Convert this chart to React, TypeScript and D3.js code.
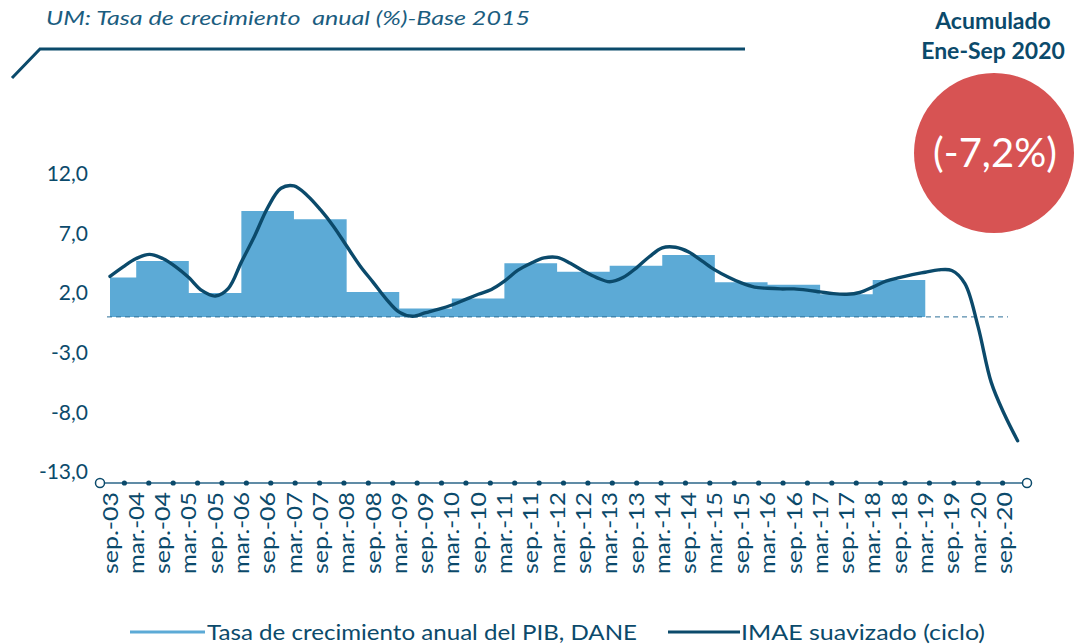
import * as d3 from 'd3';
import React from 'react';

// Etiquetas del eje X (semestrales)
const periodos = [
  'sep.-03', 'mar.-04', 'sep.-04', 'mar.-05', 'sep.-05', 'mar.-06', 'sep.-06',
  'mar.-07', 'sep.-07', 'mar.-08', 'sep.-08', 'mar.-09', 'sep.-09', 'mar.-10',
  'sep.-10', 'mar.-11', 'sep.-11', 'mar.-12', 'sep.-12', 'mar.-13', 'sep.-13',
  'mar.-14', 'sep.-14', 'mar.-15', 'sep.-15', 'mar.-16', 'sep.-16', 'mar.-17',
  'sep.-17', 'mar.-18', 'sep.-18', 'mar.-19', 'sep.-19', 'mar.-20', 'sep.-20',
];

// Tasa de crecimiento anual del PIB, DANE (por semestre, sep.-03 a mar.-19)
const pibValores = [
  3.3, 4.7, 4.7, 2.0, 2.0, 8.9, 8.9, 8.2, 8.2, 2.1, 2.1, 0.7, 0.7, 1.55, 1.55,
  4.5, 4.5, 3.8, 3.8, 4.3, 4.3, 5.2, 5.2, 2.9, 2.9, 2.7, 2.7, 1.9, 1.9, 3.1,
  3.1, 3.1,
];

// IMAE suavizado (ciclo), trimestral desde sep.-03 hasta dic.-20
const imaeValores = [
  3.4, 4.2, 4.9, 5.25, 4.9, 4.2, 3.3, 2.2, 1.75, 2.4,
  4.6, 6.8, 9.2, 10.8, 11.0, 10.2, 9.0, 7.6, 5.95, 4.3,
  2.9, 1.5, 0.4, 0.05, 0.35, 0.65, 1.0, 1.45, 1.9, 2.3,
  3.0, 3.9, 4.5, 4.95, 5.0, 4.5, 3.85, 3.3, 2.95, 3.3,
  4.1, 5.05, 5.8, 5.85, 5.45, 4.7, 3.95, 3.35, 2.85, 2.5,
  2.4, 2.35, 2.35, 2.25, 2.1, 1.95, 1.9, 2.05, 2.5, 3.0,
  3.3, 3.55, 3.75, 3.95, 3.9, 2.8, -0.8, -5.5, -8.2, -10.4,
];

const yTicks = [-13, -8, -3, 2, 7, 12];

const colorArea = '#5caad6';
const colorLinea = '#0b4a6b';
const colorTexto = '#0b4a6b';
const fuente = 'Lato, "Noto Sans", sans-serif';

const meses: Record<string, number> = { mar: 2, sep: 8 };
const parsePeriodo = (p: string) => {
  const [m, a] = p.replace('.', '').split('-');
  return new Date(2000 + +a, meses[m], 1);
};

const inicio = new Date(2003, 8, 1);

const App = () => {
  const fechas = periodos.map(parsePeriodo);

  const x = d3.scaleTime()
    .domain([fechas[0], fechas[fechas.length - 1]])
    .range([110, 1004.5]);

  const y = d3.scaleLinear().domain([-13, 12]).range([471.7, 174]);

  const fmt = d3.formatLocale({ decimal: ',', thousands: '.', grouping: [3], currency: ['$', ''], minus: '-' }).format('.1f');

  const pibData = pibValores.map((v, i) => ({ fecha: fechas[i], v }));
  const imaeData = imaeValores.map((v, i) => ({ fecha: d3.timeMonth.offset(inicio, 3 * i), v }));

  const area = d3.area<{ fecha: Date; v: number }>()
    .x(d => x(d.fecha))
    .y0(y(0))
    .y1(d => y(d.v))
    .curve(d3.curveStepAfter);

  const linea = d3.line<{ fecha: Date; v: number }>()
    .x(d => x(d.fecha))
    .y(d => y(d.v))
    .curve(d3.curveCatmullRom.alpha(0.5));

  // Eje horizontal decorativo
  const ejeY = 483;
  const ejeX0 = x.range()[0] - 10;
  const ejeX1 = x.range()[1] + 22.5;
  const nPuntos = 38;
  const puntos = d3.range(1, nPuntos).map(k => ejeX0 + (k * (ejeX1 - ejeX0)) / nPuntos);

  return (
    <svg width={1087} height={644} style={{ position: 'absolute', left: 0, top: 0, background: '#fff' }} fontFamily={fuente}>
      {/* Subtítulo y línea decorativa */}
      <text x={46} y={25} fontSize={20} fontStyle="italic" fill="#1b5d80" style={{ whiteSpace: 'pre' }}
        textLength={484} lengthAdjust="spacingAndGlyphs">
        UM: Tasa de crecimiento  anual (%)-Base 2015
      </text>
      <path d="M12,78 L40,49 L745,49" fill="none" stroke={colorLinea} strokeWidth={3} />

      {/* Recuadro acumulado */}
      <text x={993} y={29} textAnchor="middle" fontSize={23} fontWeight={700} fill={colorTexto}>Acumulado</text>
      <text x={993} y={59} textAnchor="middle" fontSize={23} fontWeight={700} fill={colorTexto}>Ene-Sep 2020</text>
      <circle cx={994} cy={153} r={80} fill="#d75353" />
      <text x={995} y={167} textAnchor="middle" fontSize={40} fontWeight={400} fill="#fff">(-7,2%)</text>

      {/* Eje Y */}
      {yTicks.map(t => (
        <text key={t} x={88} y={y(t)} dy="0.35em" textAnchor="end" fontSize={21} fill={colorTexto}>
          {fmt(t)}
        </text>
      ))}

      {/* Área PIB */}
      <path d={area(pibData) || ''} fill={colorArea} />

      {/* Línea de cero */}
      <line x1={x.range()[0] - 3} x2={1008} y1={y(0)} y2={y(0)} stroke="#2c6f97" strokeWidth={1} strokeDasharray="5,4" />

      {/* IMAE */}
      <path d={linea(imaeData) || ''} fill="none" stroke={colorLinea} strokeWidth={3.4} strokeLinecap="round" />

      {/* Eje X */}
      <line x1={ejeX0} x2={ejeX1} y1={ejeY} y2={ejeY} stroke="#2b6688" strokeWidth={1.5} />
      {puntos.map((px, i) => (
        <circle key={i} cx={px} cy={ejeY} r={2.6} fill={colorLinea} />
      ))}
      <circle cx={ejeX0} cy={ejeY} r={4.5} fill="#fff" stroke={colorLinea} strokeWidth={1.5} />
      <circle cx={ejeX1} cy={ejeY} r={4.5} fill="#fff" stroke={colorLinea} strokeWidth={1.5} />
      {periodos.map((p, i) => (
        <text key={p} transform={`translate(${x(fechas[i])},${ejeY + 9}) rotate(-90)`} dy="0.36em"
          textAnchor="end" fontSize={21} fill={colorTexto} textLength={82} lengthAdjust="spacingAndGlyphs">
          {p}
        </text>
      ))}

      {/* Leyenda */}
      <line x1={130} x2={205} y1={632} y2={632} stroke={colorArea} strokeWidth={3} />
      <text x={207} y={640} fontSize={22} fill={colorTexto} textLength={430} lengthAdjust="spacingAndGlyphs">
        Tasa de crecimiento anual del PIB, DANE
      </text>
      <line x1={668} x2={740} y1={632} y2={632} stroke={colorLinea} strokeWidth={3} />
      <text x={741} y={640} fontSize={22} fill={colorTexto} textLength={244} lengthAdjust="spacingAndGlyphs">
        IMAE suavizado (ciclo)
      </text>
    </svg>
  );
};

export default App;
